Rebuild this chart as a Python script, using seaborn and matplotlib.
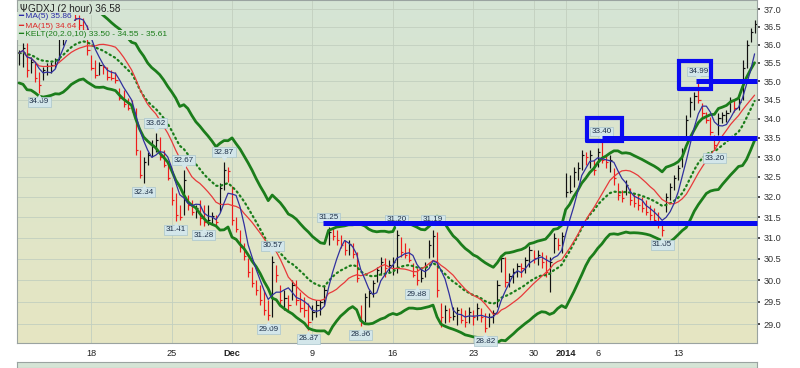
import numpy as np
import pandas as pd
import matplotlib
matplotlib.use("Agg")
import matplotlib.pyplot as plt
import matplotlib.transforms as mtransforms
from matplotlib.colors import LinearSegmentedColormap
from matplotlib.ticker import FixedLocator, FuncFormatter, NullLocator, NullFormatter
import seaborn as sns

# ---------------- data (GDXJ, 2-hour bars) ----------------
session_dates = ["2013-11-11", "2013-11-12", "2013-11-13", "2013-11-14", "2013-11-15",
                 "2013-11-18", "2013-11-19", "2013-11-20", "2013-11-21", "2013-11-22",
                 "2013-11-25", "2013-11-26", "2013-11-27", "2013-11-29",
                 "2013-12-02", "2013-12-03", "2013-12-04", "2013-12-05", "2013-12-06",
                 "2013-12-09", "2013-12-10", "2013-12-11", "2013-12-12", "2013-12-13",
                 "2013-12-16", "2013-12-17", "2013-12-18", "2013-12-19", "2013-12-20",
                 "2013-12-23", "2013-12-24", "2013-12-26", "2013-12-27",
                 "2013-12-30", "2013-12-31", "2014-01-02", "2014-01-03",
                 "2014-01-06", "2014-01-07", "2014-01-08", "2014-01-09", "2014-01-10",
                 "2014-01-13", "2014-01-14", "2014-01-15", "2014-01-16", "2014-01-17"]
session_bars = [2, 4, 4, 4, 4,
                4, 4, 4, 4, 4,
                4, 4, 4, 3,
                4, 4, 4, 4, 4,
                4, 4, 4, 4, 4,
                4, 4, 4, 4, 4,
                4, 3, 4, 4,
                4, 4, 4, 4,
                4, 4, 4, 4, 4,
                4, 4, 4, 4, 4]

tick_dates = ["2013-11-18", "2013-11-25", "2013-12-02", "2013-12-09", "2013-12-16",
              "2013-12-23", "2013-12-30", "2014-01-02", "2014-01-06", "2014-01-13"]
tick_labels = ["18", "25", "Dec", "9", "16", "23", "30", "2014", "6", "13"]
bold_ticks = ["Dec", "2014"]

high = [35.85, 36.05, 36.05, 35.66, 35.49, 35.25, 35.39, 35.49, 35.52, 35.63,
        36.47, 36.70, 36.98, 37.12, 37.04, 36.84, 36.75, 36.55, 35.72, 35.58,
        35.52, 35.44, 35.39, 35.30, 35.25, 34.82, 34.76, 34.55, 34.49, 34.28,
        33.18, 33.01, 33.13, 33.44, 33.62, 33.52, 33.18, 32.80, 32.25, 32.10,
        31.80, 32.67, 32.05, 31.92, 31.80, 31.92, 31.80, 31.80, 31.63, 31.56,
        32.35, 32.87, 32.75, 32.27, 31.51, 31.19, 30.88, 30.52, 30.31, 30.01,
        29.89, 29.78, 29.55, 30.57, 30.36, 29.89, 29.78, 29.66, 30.01, 30.01,
        29.73, 29.61, 29.48, 29.43, 29.55, 29.55, 29.89, 31.25, 31.24, 31.19,
        31.07, 30.95, 30.95, 30.88, 30.66, 29.43, 29.71, 29.78, 30.01, 30.31,
        30.55, 30.52, 30.47, 30.55, 31.20, 31.02, 30.88, 30.76, 30.41, 30.29,
        30.29, 30.43, 30.95, 31.19, 31.14, 29.48, 29.43, 29.36, 29.39, 29.39,
        29.36, 29.32, 29.39, 29.32, 29.48, 29.36, 29.25, 29.25, 29.32, 30.01,
        30.59, 30.55, 30.17, 30.29, 30.41, 30.41, 30.55, 30.81, 30.71, 30.71,
        30.66, 30.59, 30.55, 31.12, 31.00, 31.14, 32.60, 32.55, 32.75, 32.88,
        33.18, 33.13, 33.18, 32.93, 33.23, 33.40, 33.06, 33.06, 32.72, 32.35,
        32.17, 32.42, 32.22, 32.10, 32.05, 32.00, 31.92, 31.80, 31.73, 31.63,
        31.38, 32.10, 32.35, 32.55, 32.80, 33.23, 34.10, 34.57, 34.71, 34.99,
        34.41, 34.17, 34.04, 33.57, 34.15, 34.17, 34.23, 34.57, 34.49, 34.55,
        35.58, 36.13, 36.47, 36.70]
low = [35.44, 35.39, 35.11, 35.22, 34.98, 34.69, 35.03, 35.17, 35.22, 35.36,
       35.58, 35.99, 36.41, 36.64, 36.47, 36.36, 36.19, 35.72, 35.30, 35.09,
       35.17, 35.19, 35.03, 35.03, 34.95, 34.49, 34.31, 34.23, 34.17, 33.06,
       32.47, 32.34, 32.80, 33.01, 33.13, 32.93, 32.75, 32.42, 31.80, 31.41,
       31.43, 31.56, 31.68, 31.56, 31.48, 31.31, 31.28, 31.31, 31.31, 31.31,
       31.63, 32.17, 32.37, 31.31, 31.14, 30.66, 30.47, 30.08, 29.84, 29.66,
       29.43, 29.20, 29.09, 29.15, 29.96, 29.43, 29.32, 29.27, 29.55, 29.43,
       29.27, 29.15, 28.87, 29.09, 29.15, 29.20, 29.43, 30.83, 30.95, 30.83,
       30.76, 30.59, 30.59, 30.52, 29.96, 28.96, 29.05, 29.39, 29.61, 29.96,
       30.12, 30.08, 30.17, 30.12, 30.17, 30.55, 30.52, 30.43, 30.08, 29.88,
       29.96, 30.08, 30.52, 30.55, 29.61, 28.93, 29.02, 29.05, 29.09, 28.98,
       29.02, 28.93, 29.02, 28.98, 29.09, 29.05, 28.82, 28.93, 29.02, 29.39,
       30.19, 29.84, 29.84, 29.94, 30.08, 30.08, 30.17, 30.31, 30.41, 30.36,
       30.29, 30.08, 29.73, 30.64, 30.71, 30.64, 32.00, 32.10, 32.25, 32.42,
       32.67, 32.80, 32.72, 32.55, 32.75, 32.85, 32.72, 32.62, 32.30, 31.92,
       31.87, 32.05, 31.80, 31.75, 31.68, 31.63, 31.56, 31.43, 31.31, 31.24,
       31.05, 31.63, 31.92, 32.17, 32.42, 32.75, 33.44, 34.04, 34.23, 34.41,
       34.04, 33.88, 33.57, 33.20, 33.57, 33.88, 33.91, 34.17, 34.17, 34.23,
       34.49, 35.36, 36.08, 36.33]
close = [35.77, 35.91, 35.30, 35.52, 35.09, 34.90, 35.30, 35.41, 35.44, 35.58,
         36.41, 36.64, 36.84, 36.92, 36.75, 36.55, 36.41, 35.85, 35.36, 35.17,
         35.44, 35.39, 35.11, 35.09, 35.03, 34.55, 34.39, 34.28, 34.23, 33.18,
         32.55, 32.88, 33.06, 33.31, 33.44, 33.00, 32.80, 32.47, 31.92, 31.56,
         31.51, 32.42, 31.80, 31.63, 31.73, 31.48, 31.38, 31.43, 31.53, 31.38,
         32.22, 32.67, 32.65, 31.43, 31.21, 30.78, 30.57, 30.19, 29.94, 29.78,
         29.55, 29.32, 29.20, 30.43, 30.12, 29.55, 29.59, 29.43, 29.89, 29.55,
         29.36, 29.32, 29.05, 29.27, 29.43, 29.50, 29.78, 31.14, 31.05, 30.95,
         30.83, 30.71, 30.85, 30.61, 30.05, 29.05, 29.61, 29.71, 29.94, 30.24,
         30.43, 30.29, 30.36, 30.43, 31.07, 30.66, 30.59, 30.47, 30.12, 30.01,
         30.05, 30.34, 30.83, 31.05, 29.78, 29.15, 29.32, 29.15, 29.18, 29.32,
         29.09, 29.05, 29.27, 29.15, 29.36, 29.15, 28.91, 29.15, 29.25, 29.89,
         30.52, 29.96, 30.10, 30.19, 30.34, 30.29, 30.47, 30.71, 30.52, 30.59,
         30.43, 30.19, 30.43, 31.00, 30.83, 31.05, 32.12, 32.15, 32.62, 32.72,
         33.06, 33.00, 33.06, 32.67, 33.13, 32.93, 32.88, 32.93, 32.47, 32.05,
         31.97, 32.30, 31.92, 31.85, 31.80, 31.73, 31.63, 31.56, 31.43, 31.31,
         31.19, 32.00, 32.25, 32.47, 32.72, 33.13, 33.96, 34.44, 34.60, 34.49,
         34.15, 33.96, 33.65, 33.31, 34.01, 34.10, 34.15, 34.49, 34.28, 34.44,
         35.36, 35.99, 36.36, 36.58]

# labelled swing points: (bar index, "H" for high / "L" for low)
label_bars = [5, 34, 31, 41, 39, 46, 51, 63, 62, 72, 77, 85, 94, 103, 99, 116, 145, 160, 169, 173]
label_kind = ["L", "H", "L", "H", "L", "L", "H", "H", "L", "L", "H", "L", "H", "H", "L", "L", "H", "L", "H", "L"]

# hand-drawn annotations: horizontal levels (price, first bar) and boxes (bar0, bar1, price0, price1)
level_prices = [31.37, 33.50, 35.00]
level_start = [75.6, 145.0, 168.3]
box_bars = [(141.3, 150.0), (164.2, 172.1)]
box_prices = [(33.41, 34.01), (34.78, 35.56)]

legend_lines = ["GDXJ (2 hour) 36.58", "MA(5) 35.86", "MA(15) 34.64",
                "KELT(20,2.0,10) 33.50 - 34.55 - 35.61"]

# ---------------- derived ----------------
session_start = dict(zip(session_dates, np.concatenate([[0], np.cumsum(session_bars)[:-1]])))
tick_pos = [session_start[d] for d in tick_dates]

h = pd.Series(high, dtype=float)
l = pd.Series(low, dtype=float)
c = pd.Series(close, dtype=float)
n = len(c)
xb = np.arange(n)
prev = c.shift(1).fillna(c.iloc[0])
tr = pd.concat([h - l, (h - prev).abs(), (l - prev).abs()], axis=1).max(axis=1)
atr = tr.ewm(alpha=1 / 10, adjust=False).mean()
mid = c.ewm(span=20, adjust=False).mean()
df = pd.DataFrame({
    "bar": xb,
    "ma5": c.rolling(5, min_periods=1).mean(),
    "ma15": c.rolling(15, min_periods=1).mean(),
    "mid": mid,
    "upper": mid + 2 * atr,
    "lower": mid - 2 * atr,
})

# ---------------- figure ----------------
sns.set_theme(style="white")
plt.rcParams["font.family"] = ["Liberation Sans", "DejaVu Sans"]

W, H = 800, 368
fig = plt.figure(figsize=(8, 3.68), dpi=100)
fig.patch.set_facecolor("white")
L, R, T, B = 17, 757, 0, 343
ax = fig.add_axes([L / W, 1 - B / H, (R - L) / W, (B - T) / H])

# gradient background
top_col, bot_col = "#d5e4d5", "#e6e6c2"
cmap = LinearSegmentedColormap.from_list("bg", [top_col, bot_col])
ax.imshow(np.linspace(0, 1, 256).reshape(-1, 1), cmap=cmap, aspect="auto",
          extent=[0, 1, 0, 1], transform=ax.transAxes, zorder=0, interpolation="bicubic")

ax.set_yscale("log")
ax.set_ylim(28.577, 37.268)
ax.set_xlim(-0.5, 183.6)

# grid
yt = np.arange(29.0, 37.01, 0.5)
for v in yt:
    ax.axhline(v, color="#c2cfbf", lw=0.6, zorder=1)
for p in tick_pos:
    ax.axvline(p, color="#c2cfbf", lw=0.6, zorder=1)

# OHLC-style bars (high-low with close tick)
up = c.values >= prev.values
cols = np.where(up, "#111111", "#ee1c1c")
ax.vlines(xb, l, h, colors=cols, lw=0.85, zorder=3)
ax.hlines(c, xb, xb + 0.55, colors=cols, lw=0.85, zorder=3)

# indicators via seaborn
green = "#1b7d1b"
sns.lineplot(data=df, x="bar", y="upper", color=green, lw=2.0, ax=ax, zorder=4)
sns.lineplot(data=df, x="bar", y="lower", color=green, lw=2.0, ax=ax, zorder=4)
sns.lineplot(data=df, x="bar", y="mid", color=green, lw=1.6, ax=ax, zorder=4,
             linestyle=(0, (0.6, 1.6)), dash_capstyle="round")
sns.lineplot(data=df, x="bar", y="ma15", color="#e8393a", lw=0.9, ax=ax, zorder=5)
sns.lineplot(data=df, x="bar", y="ma5", color="#30309e", lw=0.9, ax=ax, zorder=5)

# swing labels
label_fc = "#d3e6ea"
for i, k in zip(label_bars, label_kind):
    v = high[i] if k == "H" else low[i]
    dy = 10 if k == "H" else -9
    ax.annotate(f"{v:.2f}", xy=(i, v), xytext=(0, dy), textcoords="offset pixels",
                ha="center", va="center", fontsize=5.8, color="#1d2f47", zorder=8,
                bbox=dict(boxstyle="square,pad=0.18", fc=label_fc, ec="#a9c4cc", lw=0.5))
    tri = mtransforms.offset_copy(ax.transData, fig=fig, x=0, y=(4 if k == "H" else -4), units="dots")
    ax.plot([i], [v], marker=("v" if k == "H" else "^"), ms=3.0, color=label_fc,
            mec=label_fc, transform=tri, zorder=8)

# blue hand-drawn levels and boxes (drawn over the labels)
blue = "#0a0af0"
for p, s in zip(level_prices, level_start):
    ax.plot([s, 183.6], [p, p], color=blue, lw=3.6, solid_capstyle="butt", zorder=9,
            clip_on=False)
for (b0, b1), (p0, p1) in zip(box_bars, box_prices):
    ax.plot([b0, b1, b1, b0, b0], [p0, p0, p1, p1, p0], color=blue, lw=3.0,
            solid_joinstyle="miter", zorder=9)

# axes cosmetics
ax.set_xlabel("")
ax.set_ylabel("")
ax.yaxis.tick_right()
ax.yaxis.set_major_locator(FixedLocator(yt))
ax.yaxis.set_minor_locator(NullLocator())
ax.yaxis.set_minor_formatter(NullFormatter())
ax.yaxis.set_major_formatter(FuncFormatter(lambda v, p: f"{v:.1f}"))
ax.tick_params(axis="y", which="major", length=2, pad=3, labelsize=6.6, colors="#333333",
               right=True, left=False, labelright=True, labelleft=False)
ax.set_xticks(tick_pos)
ax.set_xticklabels(tick_labels)
ax.tick_params(axis="x", length=0, pad=4, labelsize=6.6, colors="#222222")
for t in ax.get_xticklabels():
    if t.get_text() in bold_ticks:
        t.set_fontweight("bold")
for s in ax.spines.values():
    s.set_color("#9aa3a0")
    s.set_linewidth(0.8)
ax.spines["bottom"].set_linestyle((0, (1, 1)))
ax.grid(False)

# legend text (top-left, with backgrounds that hide data behind)
bgc = top_col
fig.text(20 / W, 1 - 8.5 / H, "\u03a8", fontsize=7, color="#222222", va="center", ha="left",
         family=["DejaVu Sans"], bbox=dict(fc=bgc, ec="none", pad=0.8), zorder=10)
fig.text(28 / W, 1 - 8.5 / H, legend_lines[0], fontsize=7.2, color="#222222", va="center",
         ha="left", bbox=dict(fc=bgc, ec="none", pad=0.8), zorder=10)
leg_cols = ["#2a2aa6", "#dd2a2a", "#1b7d1b"]
leg_y = [17.0, 26.0, 35.0]
for txt, col, yy in zip(legend_lines[1:], leg_cols, leg_y):
    fig.text(18 / W, 1 - yy / H, "\u2501 " + txt, fontsize=6.0, color=col, va="center",
             ha="left", family=["Liberation Sans", "DejaVu Sans"],
             bbox=dict(fc=bgc, ec="none", pad=1.0), zorder=10)

# top of the next (volume) panel, cut off by the image edge
ax2 = fig.add_axes([L / W, 0, (R - L) / W, 6.5 / H])
ax2.set_facecolor(top_col)
ax2.set_xticks([])
ax2.set_yticks([])
for s in ax2.spines.values():
    s.set_color("#9aa3a0")
    s.set_linewidth(0.8)

fig.savefig("out.png", dpi=100)
